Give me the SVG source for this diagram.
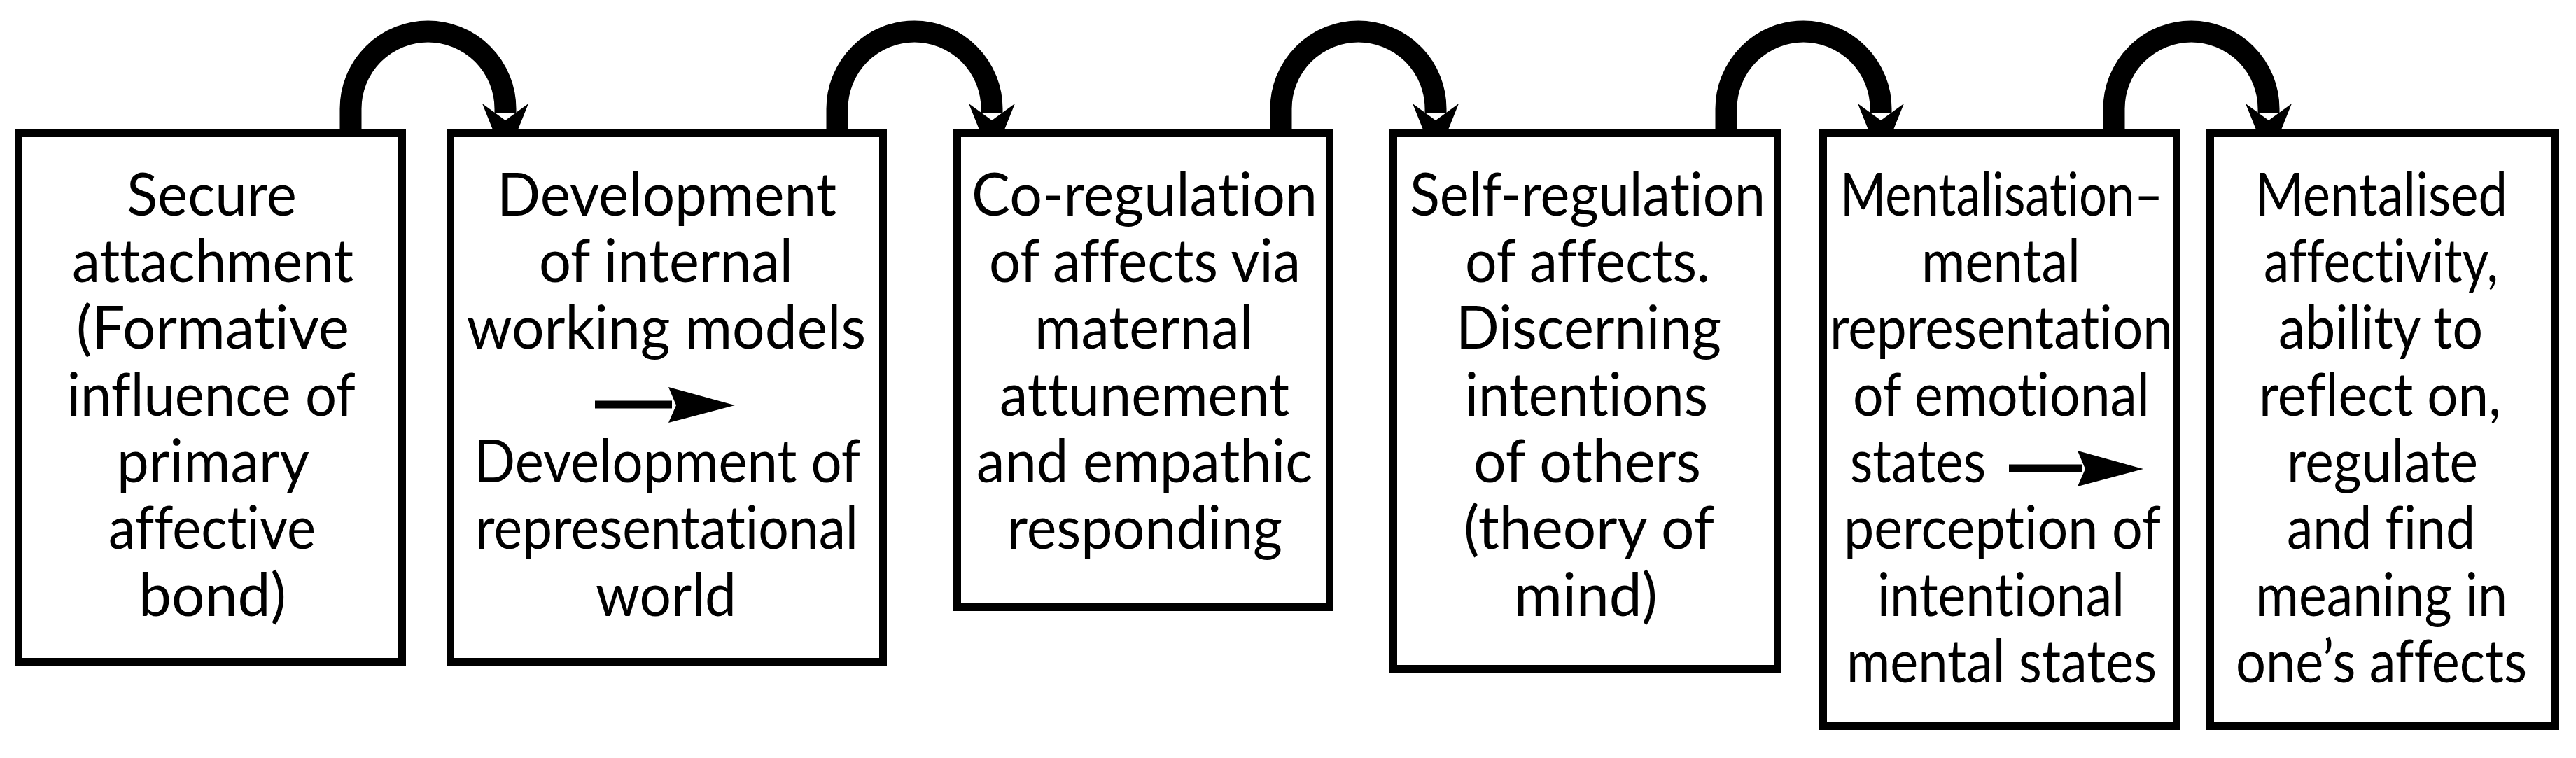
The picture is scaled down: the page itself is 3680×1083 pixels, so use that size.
<svg xmlns="http://www.w3.org/2000/svg" width="3680" height="1083" viewBox="0 0 3680 1083">
<style>
.box{fill:#fff;stroke:#000;stroke-width:11}
.arc{fill:none;stroke:#000;stroke-width:31}
.head{fill:#000}
.shaft{stroke:#000;stroke-width:11}
text{font-family:Lato,"Open Sans","DejaVu Sans",sans-serif;font-size:86px;fill:#000;font-variant-ligatures:none;font-feature-settings:"liga" 0,"clig" 0}
</style>
<rect width="3680" height="1083" fill="#fff"/>
<g id="connectors">
<path class="arc" d="M501,187 V155.5 A110.5,110.5 0 0 1 722,155.5 V162"/>
<polygon class="head" points="689,148 722,172 755,148 722,230"/>
<path class="arc" d="M1196,187 V155.5 A110.5,110.5 0 0 1 1417,155.5 V162"/>
<polygon class="head" points="1384,148 1417,172 1450,148 1417,230"/>
<path class="arc" d="M1830,187 V155.5 A110.5,110.5 0 0 1 2051,155.5 V162"/>
<polygon class="head" points="2018,148 2051,172 2084,148 2051,230"/>
<path class="arc" d="M2466,187 V155.5 A110.5,110.5 0 0 1 2687,155.5 V162"/>
<polygon class="head" points="2654,148 2687,172 2720,148 2687,230"/>
<path class="arc" d="M3020,187 V155.5 A110.5,110.5 0 0 1 3241,155.5 V162"/>
<polygon class="head" points="3208,148 3241,172 3274,148 3241,230"/>
</g>
<g id="node1">
<rect class="box" x="26.5" y="190.5" width="548" height="755"/>
<text x="181" y="308" textLength="243" lengthAdjust="spacingAndGlyphs">Secure</text>
<text x="103" y="403" textLength="402" lengthAdjust="spacingAndGlyphs">attachment</text>
<text x="109" y="498" textLength="390" lengthAdjust="spacingAndGlyphs">(Formative</text>
<text x="96" y="594" textLength="412" lengthAdjust="spacingAndGlyphs">influence of</text>
<text x="167" y="689" textLength="275" lengthAdjust="spacingAndGlyphs">primary</text>
<text x="155" y="784" textLength="296" lengthAdjust="spacingAndGlyphs">affective</text>
<text x="198" y="880" textLength="211" lengthAdjust="spacingAndGlyphs">bond)</text>
</g>
<g id="node2">
<rect class="box" x="643.5" y="190.5" width="618" height="755"/>
<text x="710" y="308" textLength="485" lengthAdjust="spacingAndGlyphs">Development</text>
<text x="770" y="403" textLength="363" lengthAdjust="spacingAndGlyphs">of internal</text>
<text x="667" y="498" textLength="570" lengthAdjust="spacingAndGlyphs">working models</text>
<line class="shaft" x1="850" y1="578" x2="960" y2="578"/>
<polygon class="head" points="955,553 1050,579 955,604 966,579"/>
<text x="677" y="689" textLength="552" lengthAdjust="spacingAndGlyphs">Development of</text>
<text x="679" y="784" textLength="547" lengthAdjust="spacingAndGlyphs">representational</text>
<text x="851" y="880" textLength="201" lengthAdjust="spacingAndGlyphs">world</text>
</g>
<g id="node3">
<rect class="box" x="1367.5" y="190.5" width="532" height="677"/>
<text x="1388" y="308" textLength="494" lengthAdjust="spacingAndGlyphs">Co-regulation</text>
<text x="1413" y="403" textLength="445" lengthAdjust="spacingAndGlyphs">of affects via</text>
<text x="1478" y="498" textLength="312" lengthAdjust="spacingAndGlyphs">maternal</text>
<text x="1428" y="594" textLength="414" lengthAdjust="spacingAndGlyphs">attunement</text>
<text x="1395" y="689" textLength="480" lengthAdjust="spacingAndGlyphs">and empathic</text>
<text x="1439" y="784" textLength="393" lengthAdjust="spacingAndGlyphs">responding</text>
</g>
<g id="node4">
<rect class="box" x="1990.5" y="190.5" width="549" height="765"/>
<text x="2014" y="308" textLength="508" lengthAdjust="spacingAndGlyphs">Self-regulation</text>
<text x="2093" y="403" textLength="350" lengthAdjust="spacingAndGlyphs">of affects.</text>
<text x="2080" y="498" textLength="379" lengthAdjust="spacingAndGlyphs">Discerning</text>
<text x="2093" y="594" textLength="347" lengthAdjust="spacingAndGlyphs">intentions</text>
<text x="2105" y="689" textLength="325" lengthAdjust="spacingAndGlyphs">of others</text>
<text x="2091" y="784" textLength="358" lengthAdjust="spacingAndGlyphs">(theory of</text>
<text x="2163" y="880" textLength="205" lengthAdjust="spacingAndGlyphs">mind)</text>
</g>
<g id="node5">
<rect class="box" x="2604.5" y="190.5" width="505" height="847"/>
<text x="2629" y="308" textLength="461" lengthAdjust="spacingAndGlyphs">Mentalisation–</text>
<text x="2745" y="403" textLength="227" lengthAdjust="spacingAndGlyphs">mental</text>
<text x="2614" y="498" textLength="490" lengthAdjust="spacingAndGlyphs">representation</text>
<text x="2647" y="594" textLength="424" lengthAdjust="spacingAndGlyphs">of emotional</text>
<text x="2643" y="689" textLength="194" lengthAdjust="spacingAndGlyphs">states</text>
<line class="shaft" x1="2870" y1="669" x2="2975" y2="669"/>
<polygon class="head" points="2968,644 3062,670 2968,695 2979,670"/>
<text x="2634" y="784" textLength="453" lengthAdjust="spacingAndGlyphs">perception of</text>
<text x="2682" y="880" textLength="353" lengthAdjust="spacingAndGlyphs">intentional</text>
<text x="2638" y="975" textLength="443" lengthAdjust="spacingAndGlyphs">mental states</text>
</g>
<g id="node6">
<rect class="box" x="3157.5" y="190.5" width="493" height="847"/>
<text x="3222" y="308" textLength="360" lengthAdjust="spacingAndGlyphs">Mentalised</text>
<text x="3234" y="403" textLength="335" lengthAdjust="spacingAndGlyphs">affectivity,</text>
<text x="3255" y="498" textLength="292" lengthAdjust="spacingAndGlyphs">ability to</text>
<text x="3227" y="594" textLength="346" lengthAdjust="spacingAndGlyphs">reflect on,</text>
<text x="3267" y="689" textLength="273" lengthAdjust="spacingAndGlyphs">regulate</text>
<text x="3267" y="784" textLength="269" lengthAdjust="spacingAndGlyphs">and find</text>
<text x="3222" y="880" textLength="360" lengthAdjust="spacingAndGlyphs">meaning in</text>
<text x="3194" y="975" textLength="416" lengthAdjust="spacingAndGlyphs">one’s affects</text>
</g>
</svg>
